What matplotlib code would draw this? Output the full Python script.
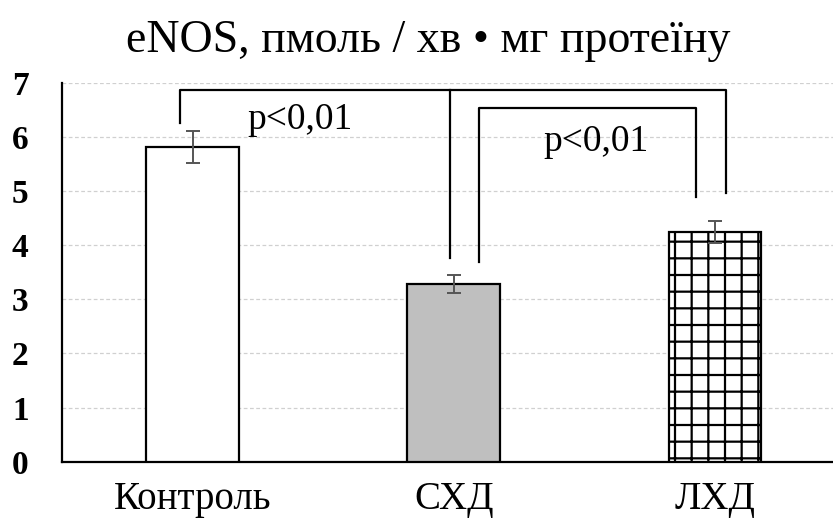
import matplotlib
matplotlib.use("Agg")
import matplotlib.pyplot as plt

# eNOS activity per group, mean and error
groups = ["Контроль", "СХД", "ЛХД"]
means = [5.81, 3.28, 4.24]
errors = [0.29, 0.16, 0.21]
p_labels = ["p<0,01", "p<0,01"]

plt.rcParams["font.family"] = ["Liberation Serif", "DejaVu Serif"]
plt.rcParams["hatch.linewidth"] = 1.6

fig = plt.figure(figsize=(8.33, 5.23), dpi=100)
ax = fig.add_axes([0.0744, 0.1172, 0.9406, 0.7247])

xs = list(range(len(groups)))
faces = ["white", "#bfbfbf", "white"]
hatches = [None, None, "+"]
for x, m, fc, h in zip(xs, means, faces, hatches):
    ax.bar(x, m, width=0.355, color=fc, edgecolor="black", linewidth=1.6,
           hatch=h, zorder=3)
ax.errorbar(xs, means, yerr=errors, fmt="none", ecolor="#555555",
            elinewidth=1.4, capsize=5, capthick=1.4, zorder=4)

# significance brackets
lw = 1.6
ax.plot([-0.048, -0.048, 2.042, 2.042], [6.25, 6.87, 6.87, 4.96],
        color="black", lw=lw, zorder=5)
ax.plot([0.987, 0.987], [6.87, 3.76], color="black", lw=lw, zorder=5)
ax.plot([1.097, 1.097, 1.929, 1.929], [3.69, 6.53, 6.53, 4.88],
        color="black", lw=lw, zorder=5)
ax.text(0.41, 6.31, p_labels[0], fontsize=27, ha="center", va="center", zorder=6)
ax.text(1.545, 5.9, p_labels[1], fontsize=27, ha="center", va="center", zorder=6)

ax.set_xlim(-0.5, 2.5)
ax.set_ylim(0, 7)
ax.set_yticks(range(0, 8))
ax.set_xticks(xs)
ax.set_xticklabels(groups, fontsize=28)
for lab in ax.get_yticklabels():
    lab.set_fontsize(24)
    lab.set_fontweight("bold")
ax.tick_params(axis="x", length=0, pad=14)
ax.tick_params(axis="y", length=0, pad=24)
ax.grid(axis="y", color="#d0d0d0", linestyle=(0, (3, 2)), linewidth=0.9, zorder=0)
for side in ("top", "right"):
    ax.spines[side].set_visible(False)
ax.spines["left"].set_linewidth(1.6)
ax.spines["bottom"].set_linewidth(1.6)

fig.text(0.514, 0.922, "eNOS, пмоль / хв • мг протеїну", fontsize=33,
         ha="center", va="center")

fig.savefig("out.png", dpi=100)
